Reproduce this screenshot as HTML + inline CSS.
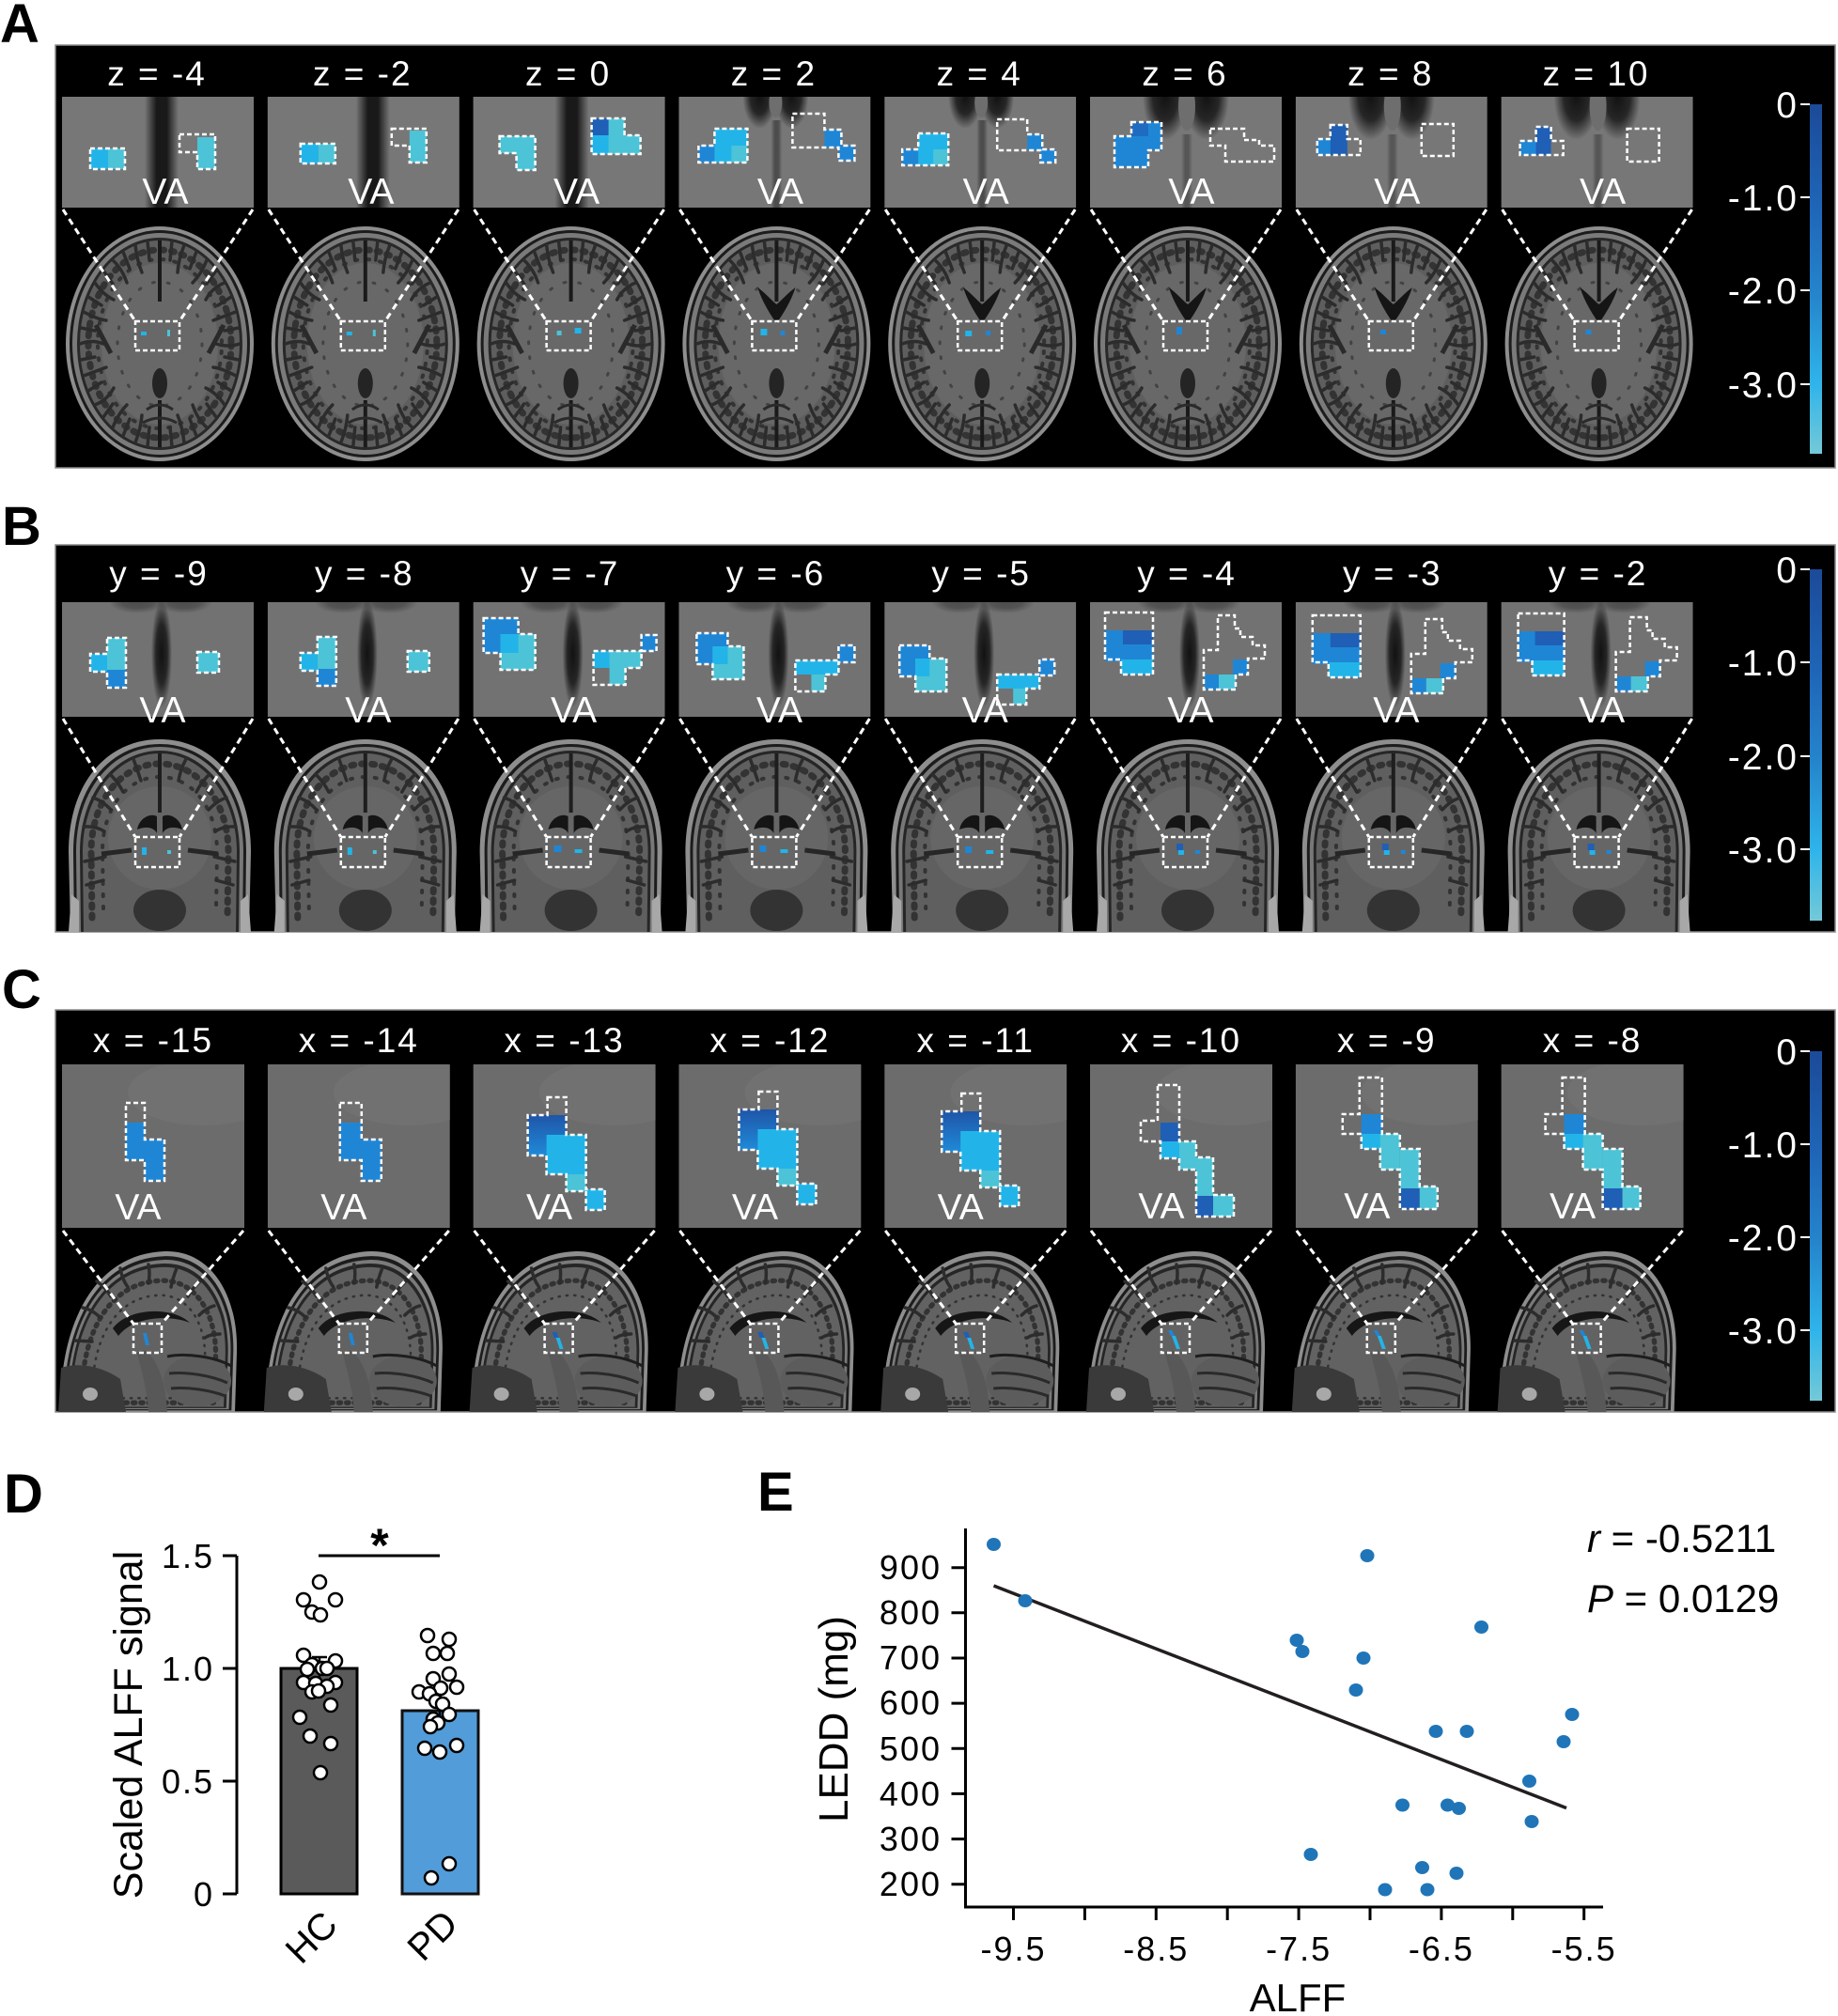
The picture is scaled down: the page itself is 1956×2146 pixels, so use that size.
<!DOCTYPE html>
<html><head><meta charset="utf-8">
<style>
html,body{margin:0;padding:0;background:#fff}
svg{display:block}
text{font-family:"Liberation Sans",Arial,sans-serif}
.lab{fill:#fff;font-size:37px;letter-spacing:2px;text-anchor:middle}
.va{fill:#fff;font-size:39px;text-anchor:middle}
.cbl{fill:#fff;font-size:39px;letter-spacing:2px;text-anchor:end}
.c1{fill:#1f5fb5}.c2{fill:#1f86d6}.c3{fill:#22b4e8}.c4{fill:#4cc3d6}
.ol{fill:none;stroke:#fff;stroke-width:2.5;stroke-dasharray:5 3}
.dl{fill:none;stroke:#fff;stroke-width:3;stroke-dasharray:7 5}
.pl{font-weight:bold;font-size:58px;fill:#000}
.tk{font-size:36px;letter-spacing:2px;fill:#000}
.sul{fill:none;stroke:#2c2c2c;stroke-width:3.5;stroke-linecap:round}
.tex{fill:none;stroke:#333;stroke-linecap:round}
</style></head><body>
<svg width="1956" height="2146" viewBox="0 0 1956 2146" xmlns="http://www.w3.org/2000/svg">
<defs>
<clipPath id="cA"><rect width="204" height="118"/></clipPath>
<clipPath id="cB"><rect width="204" height="122"/></clipPath>
<clipPath id="cC"><rect width="194" height="174"/></clipPath>
<radialGradient id="dk"><stop offset="0" stop-color="#121212" stop-opacity="1"/><stop offset="0.55" stop-color="#121212" stop-opacity="0.8"/><stop offset="1" stop-color="#121212" stop-opacity="0"/></radialGradient>
<linearGradient id="gH" x1="0" x2="1" y1="0" y2="0"><stop offset="0" stop-color="#141414" stop-opacity="0"/><stop offset="0.35" stop-color="#141414" stop-opacity="0.95"/><stop offset="0.65" stop-color="#141414" stop-opacity="0.95"/><stop offset="1" stop-color="#141414" stop-opacity="0"/></linearGradient>
<linearGradient id="cb" x1="0" y1="0" x2="0" y2="1"><stop offset="0" stop-color="#1b4a98"/><stop offset="0.3" stop-color="#1f66b8"/><stop offset="0.55" stop-color="#2585cc"/><stop offset="0.8" stop-color="#2fb4ea"/><stop offset="1" stop-color="#74c9d8"/></linearGradient>
<linearGradient id="cg" x1="0" y1="0" x2="0" y2="1"><stop offset="0" stop-color="#1f55a8"/><stop offset="1" stop-color="#1f8ad8"/></linearGradient>

<g id="ax">
<ellipse rx="100" ry="125" fill="#8e8e8e"/>
<ellipse rx="96" ry="121" fill="#1c1c1c"/>
<ellipse rx="93" ry="118" fill="#7a7a7a"/>
<ellipse rx="88" ry="113" fill="#282828"/>
<ellipse rx="85" ry="110" fill="#5e5e5e"/>
<ellipse rx="62" ry="86" fill="#686868"/>
<ellipse class="tex" rx="76" ry="100" stroke-width="7" stroke-dasharray="3 8"/>
<ellipse class="tex" rx="66" ry="90" stroke-width="4" stroke-dasharray="2 11" stroke-dashoffset="5"/>
<ellipse class="tex" rx="45" ry="66" stroke-width="3" stroke-dasharray="2 14" opacity="0.7"/>
<path class="sul" d="M85,0Q72,4 60,0M81,34Q66,26 57,25M69,65Q60,52 49,47M50,89Q40,80 35,65M26,105Q24,88 19,76M-26,105Q-20,90 -19,76M-50,89Q-44,74 -35,65M-69,65Q-56,60 -49,47M-81,34Q-70,30 -57,25M-85,0Q-72,-5 -60,0M-81,-34Q-66,-26 -57,-25M-69,-65Q-60,-52 -49,-47M-50,-89Q-40,-80 -35,-65M-26,-105Q-24,-88 -19,-76M26,-105Q20,-90 19,-76M50,-89Q44,-74 35,-65M69,-65Q56,-60 49,-47M81,-34Q70,-30 57,-25"/>
<path class="sul" stroke-width="2.5" d="M84,17L69,14M76,50L62,41M60,78L50,64M39,98L32,80M13,109L11,89M-84,17L-69,14M-76,50L-62,41M-60,78L-50,64M-39,98L-32,80M-13,109L-11,89M84,-17L69,-14M76,-50L62,-41M60,-78L50,-64M39,-98L32,-80M13,-109L11,-89M-84,-17L-69,-14M-76,-50L-62,-41M-60,-78L-50,-64M-39,-98L-32,-80M-13,-109L-11,-89"/>
<path d="M0,-110V-45M0,60V110" stroke="#1a1a1a" stroke-width="4"/>
<path d="M-68,-20L-52,10M68,-20L52,10" stroke="#2a2a2a" stroke-width="5"/>
<ellipse cx="0" cy="42" rx="8" ry="16" fill="#242424"/>
<path d="M-14,70Q0,60 14,70M-18,84Q0,74 18,84" stroke="#2a2a2a" stroke-width="3" fill="none"/>
</g>
<path id="vent" d="M0,-22C-6,-30 -16,-46 -20,-60C-12,-54 -5,-46 0,-42C5,-46 12,-54 20,-60C16,-46 6,-30 0,-22Z" fill="#151515"/>

<g id="cor">
<path d="M-95,205L-97,120C-97,45 -55,0 0,0C55,0 97,45 97,120L95,205Z" fill="#8e8e8e"/>
<path d="M-91,205L-92,120C-92,50 -52,5 0,5C52,5 92,50 92,120L91,205Z" fill="#1c1c1c"/>
<path d="M-88,205L-89,120C-89,53 -50,8 0,8C50,8 89,53 89,120L88,205Z" fill="#787878"/>
<path d="M-84,205L-85,120C-85,57 -47,12 0,12C47,12 85,57 85,120L84,205Z" fill="#262626"/>
<path d="M-81,205L-82,120C-82,60 -45,15 0,15C45,15 82,60 82,120L81,205Z" fill="#5f5f5f"/>
<ellipse cx="0" cy="105" rx="55" ry="55" fill="#666"/>
<path class="tex" stroke-width="7" stroke-dasharray="3 8" d="M-72,190L-73,120C-73,65 -40,26 0,26C40,26 73,65 73,120L72,190"/>
<path class="tex" stroke-width="4" stroke-dasharray="2 11" d="M-60,180L-61,120C-61,72 -34,40 0,40C34,40 61,72 61,120L60,180"/>
<path class="sul" d="M81,93Q68,92 59,98M71,62Q60,66 52,75M53,37Q44,46 39,56M28,21Q22,32 20,44M-28,21Q-24,32 -20,44M-53,37Q-44,46 -39,56M-71,62Q-60,66 -52,75M-81,93Q-68,92 -59,98M80,130L58,125M78,155L60,150M-80,130L-58,125M-78,155L-60,150"/>
<path d="M-62,122L-30,118M62,122L30,118" stroke="#262626" stroke-width="5"/>
<path d="M0,15V78" stroke="#1e1e1e" stroke-width="4"/>
<path d="M-3,82C-10,78 -22,84 -24,96C-14,92 -6,94 -3,100Z M3,82C10,78 22,84 24,96C14,92 6,94 3,100Z" fill="#151515"/>
<ellipse cx="0" cy="182" rx="28" ry="22" fill="#333"/>
<path d="M-97,205L-94,165L-86,172L-86,205Z M97,205L94,165L86,172L86,205Z" fill="#a8a8a8"/>
</g>

<path id="sagP" d="M-93,171C-96,88 -63,3 17,0C67,-2 96,48 94,108L92,171Z"/>
<g id="sag">
<use href="#sagP" fill="#8e8e8e"/>
<use href="#sagP" fill="#1c1c1c" transform="translate(0,130) scale(0.96) translate(0,-130)"/>
<use href="#sagP" fill="#7a7a7a" transform="translate(0,130) scale(0.93) translate(0,-130)"/>
<use href="#sagP" fill="#262626" transform="translate(0,130) scale(0.9) translate(0,-130)"/>
<use href="#sagP" fill="#626262" transform="translate(0,130) scale(0.87) translate(0,-130)"/>
<use href="#sagP" class="tex" stroke-width="7" stroke-dasharray="3 8" transform="translate(0,130) scale(0.76) translate(0,-130)"/>
<use href="#sagP" class="tex" stroke-width="4" stroke-dasharray="2 11" transform="translate(0,130) scale(0.64) translate(0,-130)"/>
<path class="sul" d="M-70,60Q-60,62 -52,70M-55,32Q-46,38 -40,48M-30,18Q-28,30 -22,38M0,14Q2,24 0,34M30,18Q26,28 24,38M55,32Q46,40 42,48M70,58Q62,60 54,68M76,88Q66,88 60,92M-78,95L-60,96"/>
<path d="M-38,82C-22,60 25,58 44,76C25,68 -15,68 -32,90Z" fill="#161616"/>
<path d="M-96,171L-93,124C-75,118 -50,122 -30,136L-24,171Z" fill="#3a3a3a"/>
<ellipse cx="-62" cy="152" rx="8" ry="7" fill="#a8a8a8"/>
<ellipse cx="52" cy="138" rx="36" ry="27" fill="#5c5c5c"/>
<path d="M22,130C40,128 66,132 84,140M24,146C42,144 66,148 82,154" stroke="#2a2a2a" stroke-width="3" fill="none"/>
<path d="M20,112C40,108 70,112 88,122" stroke="#1e1e1e" stroke-width="3" fill="none"/>
<path d="M-5,105C5,110 18,130 20,171L0,171C-2,140 -10,120 -12,108Z" fill="#585858"/>
</g>

<g id="iA1"><rect width="204" height="118" fill="#777"/></g>
<g id="iA2" clip-path="url(#cA)"><rect width="204" height="118" fill="#777"/><ellipse cx="86" cy="0" rx="18" ry="34" fill="url(#dk)"/><ellipse cx="120" cy="0" rx="18" ry="34" fill="url(#dk)"/><ellipse cx="103" cy="6" rx="7" ry="16" fill="#6e6e6e"/><rect x="98" y="25" width="12" height="93" fill="url(#gH)" opacity="0.45"/></g>
<g id="iA3" clip-path="url(#cA)"><rect width="204" height="118" fill="#777"/><ellipse cx="80" cy="0" rx="24" ry="46" fill="url(#dk)"/><ellipse cx="124" cy="0" rx="24" ry="46" fill="url(#dk)"/><ellipse cx="103" cy="10" rx="9" ry="26" fill="#6e6e6e"/><rect x="97" y="40" width="12" height="78" fill="url(#gH)" opacity="0.35"/></g>
<g id="iB" clip-path="url(#cB)"><rect width="204" height="122" fill="#727272"/><ellipse cx="106" cy="55" rx="11" ry="58" fill="url(#dk)"/><ellipse cx="80" cy="0" rx="30" ry="12" fill="url(#dk)" opacity="0.4"/><ellipse cx="130" cy="0" rx="30" ry="12" fill="url(#dk)" opacity="0.4"/></g>
<g id="iC" clip-path="url(#cC)"><rect width="194" height="174" fill="#6c6c6c"/><ellipse cx="150" cy="30" rx="80" ry="35" fill="#747474" opacity="0.6"/></g>
</defs>

<rect width="1956" height="2146" fill="#fff"/>

<text class="pl" x="0" y="45">A</text>
<text class="pl" x="2" y="580">B</text>
<text class="pl" x="2" y="1073">C</text>
<text class="pl" x="4" y="1610">D</text>
<text class="pl" x="806" y="1608">E</text>

<rect x="59" y="48" width="1894" height="450" fill="#000" stroke="#8a8a8a" stroke-width="1.5"/>
<rect x="59" y="580" width="1894" height="412" fill="#000" stroke="#8a8a8a" stroke-width="1.5"/>
<rect x="59" y="1075" width="1894" height="428" fill="#000" stroke="#8a8a8a" stroke-width="1.5"/>

<!-- ================= PANEL A ================= -->
<g transform="translate(0,0)">
<text class="lab" x="167" y="91">z = -4</text>
<use href="#ax" x="170" y="366"/>
<g transform="translate(66,103)"><use href="#iA1"/><rect x="88" width="36" height="118" fill="url(#gH)"/>
<text class="va" x="110" y="114">VA</text>
<rect class="c3" x="30" y="55" width="19" height="22"/><rect class="c4" x="49" y="55" width="18" height="22"/><rect class="ol" x="30" y="55" width="37" height="22"/>
<rect class="c4" x="144" y="43" width="19" height="34"/><path class="ol" d="M125,40H163V77H144V59H125Z"/>
</g>
<path class="dl" d="M67,223L144,342M269,223L191,342"/>
<rect class="ol" x="144" y="342" width="47" height="31"/>
<rect class="c3" x="150" y="353" width="6" height="4"/><rect class="c4" x="178" y="351" width="3" height="7"/>
</g>

<g transform="translate(218.8,0)">
<text class="lab" x="167" y="91">z = -2</text>
<use href="#ax" x="170" y="366"/>
<g transform="translate(66,103)"><use href="#iA1"/><rect x="94" width="36" height="118" fill="url(#gH)"/>
<text class="va" x="110" y="114">VA</text>
<rect class="c3" x="35" y="50" width="19" height="21"/><rect class="c4" x="54" y="50" width="18" height="21"/><rect class="ol" x="35" y="50" width="37" height="21"/>
<rect class="c4" x="151" y="36" width="18" height="34"/><path class="ol" d="M132,34H169V70H151V52H132Z"/>
</g>
<path class="dl" d="M67,223L144,342M269,223L191,342"/>
<rect class="ol" x="144" y="342" width="47" height="31"/>
<rect class="c3" x="150" y="353" width="6" height="4"/><rect class="c4" x="178" y="351" width="3" height="7"/>
</g>

<g transform="translate(437.6,0)">
<text class="lab" x="167" y="91">z = 0</text>
<use href="#ax" x="170" y="366"/>
<g transform="translate(66,103)"><use href="#iA1"/><rect x="87" width="36" height="118" fill="url(#gH)"/>
<text class="va" x="110" y="114">VA</text>
<path class="c4" d="M28,42H66V78H46V60H28Z"/><path class="ol" d="M28,42H66V78H46V60H28Z"/>
<path class="c4" d="M126,23H161V41H178V61H126Z"/><rect class="c1" x="126" y="23" width="18" height="18"/><rect class="c3" x="126" y="41" width="18" height="20"/><path class="ol" d="M126,23H161V41H178V61H126Z"/>
</g>
<path class="dl" d="M67,223L144,342M269,223L191,342"/>
<rect class="ol" x="144" y="342" width="47" height="31"/>
<rect class="c4" x="155" y="352" width="5" height="5"/><rect class="c3" x="174" y="349" width="7" height="6"/>
</g>

<g transform="translate(656.4,0)">
<text class="lab" x="167" y="91">z = 2</text>
<use href="#ax" x="170" y="366"/>
<use href="#vent" x="170" y="366"/>
<g transform="translate(66,103)"><use href="#iA2"/>
<text class="va" x="108" y="114">VA</text>
<path class="c3" d="M38,34H73V70H21V52H38Z"/><rect class="c2" x="21" y="52" width="17" height="18"/><rect class="c4" x="56" y="52" width="17" height="18"/><path class="ol" d="M38,34H73V70H21V52H38Z"/>
<rect class="c2" x="155" y="35" width="18" height="19"/><rect class="c2" x="170" y="52" width="17" height="16"/><path class="ol" d="M121,18H155V35H173V52H187V68H170V54H121Z"/>
</g>
<path class="dl" d="M67,223L144,342M269,223L191,342"/>
<rect class="ol" x="144" y="342" width="47" height="31"/>
<rect class="c3" x="153" y="350" width="7" height="7"/><rect class="c2" x="174" y="352" width="5" height="5"/>
</g>

<g transform="translate(875.2,0)">
<text class="lab" x="167" y="91">z = 4</text>
<use href="#ax" x="170" y="366"/>
<use href="#vent" x="170" y="366"/>
<g transform="translate(66,103)"><use href="#iA2"/>
<text class="va" x="108" y="114">VA</text>
<path class="c3" d="M36,39H68V73H19V56H36Z"/><rect class="c2" x="19" y="56" width="17" height="17"/><rect class="c4" x="52" y="56" width="16" height="17"/><path class="ol" d="M36,39H68V73H19V56H36Z"/>
<rect class="c2" x="152" y="40" width="16" height="17"/><rect class="c2" x="166" y="56" width="16" height="14"/><path class="ol" d="M120,24H152V40H168V56H182V70H166V57H120Z"/>
</g>
<path class="dl" d="M67,223L144,342M269,223L191,342"/>
<rect class="ol" x="144" y="342" width="47" height="31"/>
<rect class="c3" x="152" y="352" width="7" height="6"/><rect class="c2" x="174" y="352" width="5" height="5"/>
</g>

<g transform="translate(1094,0)">
<text class="lab" x="167" y="91">z = 6</text>
<use href="#ax" x="170" y="366"/>
<use href="#vent" x="170" y="366"/>
<g transform="translate(66,103)"><use href="#iA3"/>
<text class="va" x="108" y="114">VA</text>
<path class="c2" d="M44,27H76V57H62V75H26V42H44Z"/><rect class="c1" x="44" y="27" width="18" height="15" opacity="0.7"/><path class="ol" d="M44,27H76V57H62V75H26V42H44Z"/>
<path class="ol" d="M128,34H164V46H180V52H196V69H144V52H128Z"/>
</g>
<path class="dl" d="M67,223L144,342M269,223L191,342"/>
<rect class="ol" x="144" y="342" width="47" height="31"/>
<rect class="c2" x="158" y="348" width="6" height="8"/>
</g>

<g transform="translate(1312.8,0)">
<text class="lab" x="167" y="91">z = 8</text>
<use href="#ax" x="170" y="366"/>
<use href="#vent" x="170" y="366"/>
<g transform="translate(66,103)"><use href="#iA3"/>
<text class="va" x="108" y="114">VA</text>
<path class="c1" d="M37,30H55V62H23V45H37Z"/><rect class="c2" x="23" y="45" width="14" height="17"/><path class="ol" d="M37,30H55V45H69V62H23V45H37Z"/>
<rect class="ol" x="134" y="29" width="34" height="34"/>
</g>
<path class="dl" d="M67,223L144,342M269,223L191,342"/>
<rect class="ol" x="144" y="342" width="47" height="31"/>
<rect class="c2" x="156" y="351" width="6" height="5"/>
</g>

<g transform="translate(1531.6,0)">
<text class="lab" x="167" y="91">z = 10</text>
<use href="#ax" x="170" y="366"/>
<use href="#vent" x="170" y="366"/>
<g transform="translate(66,103)"><use href="#iA3"/>
<text class="va" x="108" y="114">VA</text>
<path class="c1" d="M37,32H53V62H20V47H37Z"/><rect class="c2" x="20" y="47" width="17" height="15"/><path class="ol" d="M37,32H53V47H66V62H20V47H37Z"/>
<rect class="ol" x="134" y="34" width="34" height="35"/>
</g>
<path class="dl" d="M67,223L144,342M269,223L191,342"/>
<rect class="ol" x="144" y="342" width="47" height="31"/>
<rect class="c2" x="156" y="351" width="6" height="5"/>
</g>

<!-- ================= PANEL B ================= -->
<g transform="translate(0,0)">
<text class="lab" x="169" y="623">y = -9</text>
<use href="#cor" x="170" y="787"/>
<g transform="translate(66,641)"><use href="#iB"/>
<text class="va" x="107" y="128">VA</text>
<rect class="c4" x="48" y="38" width="20" height="34"/><rect class="c2" x="48" y="72" width="20" height="19"/><rect class="c3" x="30" y="55" width="18" height="19"/><path class="ol" d="M48,38H68V91H48V74H30V55H48Z"/>
<rect class="c4" x="144" y="53" width="23" height="22"/><rect class="ol" x="144" y="53" width="23" height="22"/>
</g>
<path class="dl" d="M67,765L144,891M269,765L191,891"/>
<rect class="ol" x="144" y="891" width="47" height="32"/>
<rect class="c3" x="151" y="902" width="5" height="8"/><rect class="c4" x="178" y="905" width="4" height="4"/>
</g>

<g transform="translate(218.8,0)">
<text class="lab" x="169" y="623">y = -8</text>
<use href="#cor" x="170" y="787"/>
<g transform="translate(66,641)"><use href="#iB"/>
<text class="va" x="107" y="128">VA</text>
<rect class="c4" x="53" y="37" width="20" height="34"/><rect class="c2" x="53" y="71" width="20" height="18"/><rect class="c3" x="35" y="54" width="18" height="19"/><path class="ol" d="M53,37H73V89H53V73H35V54H53Z"/>
<rect class="c4" x="149" y="52" width="23" height="22"/><rect class="ol" x="149" y="52" width="23" height="22"/>
</g>
<path class="dl" d="M67,765L144,891M269,765L191,891"/>
<rect class="ol" x="144" y="891" width="47" height="32"/>
<rect class="c3" x="151" y="902" width="5" height="8"/><rect class="c4" x="178" y="905" width="4" height="4"/>
</g>

<g transform="translate(437.6,0)">
<text class="lab" x="169" y="623">y = -7</text>
<use href="#cor" x="170" y="787"/>
<g transform="translate(66,641)"><use href="#iB"/>
<text class="va" x="107" y="128">VA</text>
<rect class="c2" x="11" y="17" width="37" height="37"/><rect class="c4" x="29" y="34" width="37" height="38"/><rect class="c3" x="29" y="34" width="19" height="20"/><path class="ol" d="M11,17H48V34H66V72H29V54H11Z"/>
<rect class="c3" x="128" y="52" width="51" height="18"/><rect class="c4" x="145" y="52" width="34" height="18"/><rect class="c4" x="145" y="70" width="17" height="18"/><rect class="c2" x="179" y="35" width="16" height="17"/><path class="ol" d="M128,52H179V35H195V52H179V70H162V88H128Z"/>
</g>
<path class="dl" d="M67,765L144,891M269,765L191,891"/>
<rect class="ol" x="144" y="891" width="47" height="32"/>
<rect class="c2" x="152" y="900" width="8" height="7"/><rect class="c3" x="174" y="904" width="8" height="4"/>
</g>

<g transform="translate(656.4,0)">
<text class="lab" x="169" y="623">y = -6</text>
<use href="#cor" x="170" y="787"/>
<g transform="translate(66,641)"><use href="#iB"/>
<text class="va" x="107" y="128">VA</text>
<rect class="c2" x="19" y="33" width="33" height="33"/><rect class="c4" x="36" y="47" width="33" height="35"/><rect class="c3" x="36" y="47" width="16" height="19"/><path class="ol" d="M19,33H52V47H69V82H36V66H19Z"/>
<rect class="c2" x="170" y="46" width="17" height="18"/><rect class="c3" x="124" y="62" width="46" height="15"/><rect class="c4" x="141" y="77" width="15" height="18"/><path class="ol" d="M124,62H170V46H187V64H170V77H156V95H124Z"/>
</g>
<path class="dl" d="M67,765L144,891M269,765L191,891"/>
<rect class="ol" x="144" y="891" width="47" height="32"/>
<rect class="c2" x="152" y="900" width="7" height="7"/><rect class="c3" x="174" y="904" width="8" height="4"/>
</g>

<g transform="translate(875.2,0)">
<text class="lab" x="169" y="623">y = -5</text>
<use href="#cor" x="170" y="787"/>
<g transform="translate(66,641)"><use href="#iB"/>
<text class="va" x="107" y="128">VA</text>
<rect class="c2" x="16" y="46" width="32" height="33"/><rect class="c4" x="33" y="60" width="33" height="35"/><rect class="c3" x="33" y="60" width="15" height="19"/><path class="ol" d="M16,46H48V60H66V95H33V79H16Z"/>
<rect class="c2" x="165" y="61" width="16" height="17"/><rect class="c3" x="120" y="77" width="45" height="15"/><rect class="c4" x="137" y="92" width="14" height="17"/><path class="ol" d="M120,77H165V61H181V78H165V92H151V109H120Z"/>
</g>
<path class="dl" d="M67,765L144,891M269,765L191,891"/>
<rect class="ol" x="144" y="891" width="47" height="32"/>
<rect class="c2" x="152" y="901" width="7" height="7"/><rect class="c3" x="174" y="905" width="8" height="4"/>
</g>

<g transform="translate(1094,0)">
<text class="lab" x="169" y="623">y = -4</text>
<use href="#cor" x="170" y="787"/>
<g transform="translate(66,641)"><use href="#iB"/>
<text class="va" x="107" y="128">VA</text>
<rect class="c2" x="16" y="30" width="51" height="33"/><rect class="c1" x="35" y="30" width="32" height="15"/><rect class="c3" x="33" y="61" width="34" height="16"/><path class="ol" d="M16,11H67V77H33V61H16Z"/>
<rect class="c2" x="152" y="61" width="16" height="16"/><rect class="c2" x="122" y="77" width="15" height="16"/><rect class="c4" x="137" y="77" width="18" height="16"/><path class="ol" d="M136,14H154V28H160V37H173V46H186V60H168V77H155V93H121V51H136Z"/>
</g>
<path class="dl" d="M67,765L144,891M269,765L191,891"/>
<rect class="ol" x="144" y="891" width="47" height="32"/>
<rect class="c1" x="158" y="898" width="7" height="7"/><rect class="c3" x="160" y="905" width="6" height="5"/><rect class="c2" x="178" y="905" width="5" height="4"/>
</g>

<g transform="translate(1312.8,0)">
<text class="lab" x="169" y="623">y = -3</text>
<use href="#cor" x="170" y="787"/>
<g transform="translate(66,641)"><use href="#iB"/>
<text class="va" x="107" y="128">VA</text>
<rect class="c2" x="18" y="33" width="51" height="33"/><rect class="c1" x="37" y="33" width="32" height="15"/><rect class="c3" x="35" y="64" width="34" height="16"/><path class="ol" d="M18,14H69V80H35V64H18Z"/>
<rect class="c2" x="154" y="65" width="16" height="16"/><rect class="c2" x="124" y="81" width="15" height="16"/><rect class="c4" x="139" y="81" width="18" height="16"/><path class="ol" d="M138,18H156V32H162V41H175V50H188V64H170V81H157V97H123V55H138Z"/>
</g>
<path class="dl" d="M67,765L144,891M269,765L191,891"/>
<rect class="ol" x="144" y="891" width="47" height="32"/>
<rect class="c1" x="158" y="898" width="7" height="7"/><rect class="c3" x="160" y="905" width="6" height="5"/><rect class="c2" x="178" y="905" width="5" height="4"/>
</g>

<g transform="translate(1531.6,0)">
<text class="lab" x="169" y="623">y = -2</text>
<use href="#cor" x="170" y="787"/>
<g transform="translate(66,641)"><use href="#iB"/>
<text class="va" x="107" y="128">VA</text>
<rect class="c2" x="18" y="31" width="49" height="33"/><rect class="c1" x="36" y="31" width="31" height="15"/><rect class="c3" x="33" y="62" width="34" height="16"/><path class="ol" d="M18,12H67V78H33V62H18Z"/>
<rect class="c2" x="153" y="63" width="16" height="16"/><rect class="c2" x="123" y="79" width="15" height="16"/><rect class="c4" x="138" y="79" width="18" height="16"/><path class="ol" d="M137,16H155V30H161V39H174V48H187V62H169V79H156V95H122V53H137Z"/>
</g>
<path class="dl" d="M67,765L144,891M269,765L191,891"/>
<rect class="ol" x="144" y="891" width="47" height="32"/>
<rect class="c1" x="158" y="898" width="7" height="7"/><rect class="c3" x="160" y="905" width="6" height="5"/><rect class="c2" x="178" y="905" width="5" height="4"/>
</g>

<!-- ================= PANEL C ================= -->
<g transform="translate(0,0)">
<text class="lab" x="163" y="1120">x = -15</text>
<use href="#sag" x="158" y="1332"/>
<g transform="translate(66,1133)"><use href="#iC"/>
<text class="va" x="81" y="165">VA</text>
<rect class="c2" x="68" y="62" width="20" height="40"/><rect class="c2" x="88" y="80" width="21" height="44"/><path class="ol" d="M68,41H88V80H109V124H88V102H68Z"/>
</g>
<path class="dl" d="M67,1310L142,1409M259,1310L172,1409"/>
<rect class="ol" x="142" y="1409" width="30" height="31"/>
<path class="c2" d="M152,1419h4l3,13h-4z"/>
</g>

<g transform="translate(218.8,0)">
<text class="lab" x="163" y="1120">x = -14</text>
<use href="#sag" x="158" y="1332"/>
<g transform="translate(66,1133)"><use href="#iC"/>
<text class="va" x="81" y="165">VA</text>
<rect class="c2" x="77" y="62" width="23" height="40"/><rect class="c2" x="100" y="80" width="21" height="44"/><path class="ol" d="M77,41H100V80H121V124H100V102H77Z"/>
</g>
<path class="dl" d="M67,1310L142,1409M259,1310L172,1409"/>
<rect class="ol" x="142" y="1409" width="30" height="31"/>
<path class="c2" d="M152,1419h4l3,13h-4z"/>
</g>

<g transform="translate(437.6,0)">
<text class="lab" x="163" y="1120">x = -13</text>
<use href="#sag" x="158" y="1332"/>
<g transform="translate(66,1133)"><use href="#iC"/>
<text class="va" x="81" y="165">VA</text>
<rect fill="url(#cg)" x="58" y="54" width="41" height="43"/><rect class="c3" x="78" y="75" width="42" height="42"/><rect class="c4" x="99" y="117" width="21" height="18"/><rect class="c3" x="120" y="133" width="20" height="22"/>
<path class="ol" d="M79,35H99V75H120V133H140V155H120V135H99V117H78V97H58V54H79Z"/>
</g>
<path class="dl" d="M67,1310L142,1409M259,1310L172,1409"/>
<rect class="ol" x="142" y="1409" width="30" height="31"/>
<path class="c1" d="M150,1418h5l2,6h-5z"/><path class="c3" d="M154,1424h4l4,12h-4z"/>
</g>

<g transform="translate(656.4,0)">
<text class="lab" x="163" y="1120">x = -12</text>
<use href="#sag" x="158" y="1332"/>
<g transform="translate(66,1133)"><use href="#iC"/>
<text class="va" x="81" y="165">VA</text>
<g transform="translate(6,-6)">
<rect fill="url(#cg)" x="58" y="54" width="41" height="43"/><rect class="c3" x="78" y="75" width="42" height="42"/><rect class="c4" x="99" y="117" width="21" height="18"/><rect class="c3" x="120" y="133" width="20" height="22"/>
<path class="ol" d="M79,35H99V75H120V133H140V155H120V135H99V117H78V97H58V54H79Z"/>
</g></g>
<path class="dl" d="M67,1310L142,1409M259,1310L172,1409"/>
<rect class="ol" x="142" y="1409" width="30" height="31"/>
<path class="c1" d="M150,1418h5l2,6h-5z"/><path class="c3" d="M154,1424h4l4,12h-4z"/>
</g>

<g transform="translate(875.2,0)">
<text class="lab" x="163" y="1120">x = -11</text>
<use href="#sag" x="158" y="1332"/>
<g transform="translate(66,1133)"><use href="#iC"/>
<text class="va" x="81" y="165">VA</text>
<g transform="translate(3,-4)">
<rect fill="url(#cg)" x="58" y="54" width="41" height="43"/><rect class="c3" x="78" y="75" width="42" height="42"/><rect class="c4" x="99" y="117" width="21" height="18"/><rect class="c3" x="120" y="133" width="20" height="22"/>
<path class="ol" d="M79,35H99V75H120V133H140V155H120V135H99V117H78V97H58V54H79Z"/>
</g></g>
<path class="dl" d="M67,1310L142,1409M259,1310L172,1409"/>
<rect class="ol" x="142" y="1409" width="30" height="31"/>
<path class="c1" d="M150,1418h5l2,6h-5z"/><path class="c3" d="M154,1424h4l4,12h-4z"/>
</g>

<g transform="translate(1094,0)">
<text class="lab" x="163" y="1120">x = -10</text>
<use href="#sag" x="158" y="1332"/>
<g transform="translate(66,1133)"><use href="#iC"/>
<text class="va" x="76" y="164">VA</text>
<rect class="c1" x="75" y="62" width="20" height="20"/><rect class="c3" x="75" y="82" width="20" height="18"/><rect class="c4" x="95" y="82" width="18" height="30"/><rect class="c4" x="113" y="99" width="18" height="41"/><rect class="c1" x="113" y="140" width="18" height="22"/><rect class="c4" x="131" y="139" width="22" height="23"/>
<path class="ol" d="M72,22H95V82H113V99H131V139H153V162H113V112H95V100H75V82H54V60H72Z"/>
</g>
<path class="dl" d="M67,1310L142,1409M259,1310L172,1409"/>
<rect class="ol" x="142" y="1409" width="30" height="31"/>
<path class="c2" d="M149,1416h4l3,6h-4z"/><path class="c3" d="M153,1422h4l5,14h-4z"/>
</g>

<g transform="translate(1312.8,0)">
<text class="lab" x="163" y="1120">x = -9</text>
<use href="#sag" x="158" y="1332"/>
<g transform="translate(66,1133)"><use href="#iC"/>
<text class="va" x="76" y="164">VA</text>
<rect class="c2" x="70" y="53" width="22" height="21"/><rect class="c3" x="70" y="74" width="22" height="16"/><rect class="c4" x="90" y="74" width="21" height="38"/><rect class="c4" x="111" y="90" width="21" height="42"/><rect class="c1" x="111" y="132" width="21" height="22"/><rect class="c4" x="132" y="130" width="19" height="24"/>
<path class="ol" d="M68,14H92V74H111V90H132V130H151V154H111V112H90V90H70V74H50V53H68Z"/>
</g>
<path class="dl" d="M67,1310L142,1409M259,1310L172,1409"/>
<rect class="ol" x="142" y="1409" width="30" height="31"/>
<path class="c2" d="M149,1416h4l3,6h-4z"/><path class="c3" d="M153,1422h4l5,14h-4z"/>
</g>

<g transform="translate(1531.6,0)">
<text class="lab" x="163" y="1120">x = -8</text>
<use href="#sag" x="158" y="1332"/>
<g transform="translate(66,1133)"><use href="#iC"/>
<text class="va" x="76" y="164">VA</text>
<g transform="translate(-3,0)">
<rect class="c2" x="70" y="53" width="22" height="21"/><rect class="c3" x="70" y="74" width="22" height="16"/><rect class="c4" x="90" y="74" width="21" height="38"/><rect class="c4" x="111" y="90" width="21" height="42"/><rect class="c1" x="111" y="132" width="21" height="22"/><rect class="c4" x="132" y="130" width="19" height="24"/>
<path class="ol" d="M68,14H92V74H111V90H132V130H151V154H111V112H90V90H70V74H50V53H68Z"/>
</g></g>
<path class="dl" d="M67,1310L142,1409M259,1310L172,1409"/>
<rect class="ol" x="142" y="1409" width="30" height="31"/>
<path class="c2" d="M149,1416h4l3,6h-4z"/><path class="c3" d="M153,1422h4l5,14h-4z"/>
</g>

<!-- ================= COLORBARS ================= -->
<g>
<rect x="1926" y="111" width="13" height="372" fill="url(#cb)"/>
<path d="M1916,111H1926M1916,210H1926M1916,309H1926M1916,409H1926" stroke="#fff" stroke-width="2"/>
<text class="cbl" x="1914" y="125">0</text>
<text class="cbl" x="1914" y="224">-1.0</text>
<text class="cbl" x="1914" y="323">-2.0</text>
<text class="cbl" x="1914" y="423">-3.0</text>
</g>
<g>
<rect x="1926" y="606" width="13" height="374" fill="url(#cb)"/>
<path d="M1916,606H1926M1916,705H1926M1916,805H1926M1916,904H1926" stroke="#fff" stroke-width="2"/>
<text class="cbl" x="1914" y="620">0</text>
<text class="cbl" x="1914" y="719">-1.0</text>
<text class="cbl" x="1914" y="819">-2.0</text>
<text class="cbl" x="1914" y="918">-3.0</text>
</g>
<g>
<rect x="1926" y="1119" width="13" height="372" fill="url(#cb)"/>
<path d="M1916,1119H1926M1916,1218H1926M1916,1317H1926M1916,1416H1926" stroke="#fff" stroke-width="2"/>
<text class="cbl" x="1914" y="1133">0</text>
<text class="cbl" x="1914" y="1232">-1.0</text>
<text class="cbl" x="1914" y="1331">-2.0</text>
<text class="cbl" x="1914" y="1430">-3.0</text>
</g>

<!-- ================= PANEL D ================= -->
<g>
<path d="M252,1656V2016M237,1656H252M237,1776H252M237,1896H252M237,2016H252" stroke="#000" stroke-width="3" fill="none"/>
<text class="tk" x="228" y="1669" text-anchor="end">1.5</text>
<text class="tk" x="228" y="1789" text-anchor="end">1.0</text>
<text class="tk" x="228" y="1909" text-anchor="end">0.5</text>
<text class="tk" x="228" y="2029" text-anchor="end">0</text>
<text transform="translate(151,1836) rotate(-90)" text-anchor="middle" font-size="43" fill="#000">Scaled ALFF signal</text>
<rect x="299" y="1776" width="81" height="240" fill="#5a5a5a" stroke="#000" stroke-width="3"/>
<rect x="428" y="1821" width="81" height="195" fill="#529cd9" stroke="#111" stroke-width="3"/>
<path d="M340,1764V1788M332,1764H348M468,1808V1834M460,1808H476" stroke="#000" stroke-width="2.5"/>
<line x1="339" y1="1656" x2="468" y2="1656" stroke="#000" stroke-width="3"/>
<text x="404" y="1662" text-anchor="middle" font-size="50" font-weight="bold" fill="#000">*</text>
<g fill="#fff" stroke="#000" stroke-width="2.5">
<circle cx="340" cy="1684" r="7"/><circle cx="323" cy="1703" r="7"/><circle cx="357" cy="1703" r="7"/><circle cx="332" cy="1716" r="7"/><circle cx="341" cy="1719" r="7"/>
<circle cx="323" cy="1762" r="7"/><circle cx="357" cy="1768" r="7"/><circle cx="332" cy="1772" r="7"/><circle cx="343" cy="1776" r="7"/><circle cx="348" cy="1776" r="7"/><circle cx="327" cy="1777" r="7"/>
<circle cx="323" cy="1791" r="7"/><circle cx="357" cy="1791" r="7"/><circle cx="336" cy="1792" r="7"/><circle cx="348" cy="1795" r="7"/><circle cx="332" cy="1801" r="7"/><circle cx="339" cy="1800" r="7"/>
<circle cx="352" cy="1815" r="7"/><circle cx="319" cy="1828" r="7"/><circle cx="330" cy="1848" r="7"/><circle cx="352" cy="1856" r="7"/><circle cx="341" cy="1887" r="7"/>
<circle cx="455" cy="1741" r="7"/><circle cx="478" cy="1745" r="7"/><circle cx="461" cy="1760" r="7"/><circle cx="476" cy="1760" r="7"/><circle cx="478" cy="1782" r="7"/><circle cx="461" cy="1787" r="7"/>
<circle cx="446" cy="1801" r="7"/><circle cx="486" cy="1796" r="7"/><circle cx="469" cy="1797" r="7"/><circle cx="457" cy="1803" r="7"/><circle cx="464" cy="1811" r="7"/><circle cx="471" cy="1814" r="7"/>
<circle cx="478" cy="1825" r="7"/><circle cx="461" cy="1830" r="7"/><circle cx="466" cy="1834" r="7"/><circle cx="458" cy="1838" r="7"/><circle cx="452" cy="1861" r="7"/><circle cx="468" cy="1865" r="7"/><circle cx="486" cy="1858" r="7"/>
<circle cx="478" cy="1984" r="7"/><circle cx="459" cy="1999" r="7"/>
</g>
<text transform="translate(331,2062) rotate(-45)" text-anchor="middle" y="14" font-size="40" fill="#000">HC</text>
<text transform="translate(460,2060) rotate(-45)" text-anchor="middle" y="14" font-size="40" fill="#000">PD</text>
</g>

<!-- ================= PANEL E ================= -->
<g>
<path d="M1027.5,1627V2030H1706" stroke="#000" stroke-width="3" fill="none"/>
<path d="M1078.5,2030V2044M1154.4,2030V2044M1230.3,2030V2044M1306.2,2030V2044M1382.1,2030V2044M1458,2030V2044M1533.9,2030V2044M1609.8,2030V2044M1685.7,2030V2044" stroke="#000" stroke-width="3"/>
<path d="M1012.5,1668.7H1027.5M1012.5,1716.8H1027.5M1012.5,1765H1027.5M1012.5,1813.1H1027.5M1012.5,1861.3H1027.5M1012.5,1909.4H1027.5M1012.5,1957.6H1027.5M1012.5,2005.7H1027.5" stroke="#000" stroke-width="3"/>
<text class="tk" x="1078.5" y="2087" text-anchor="middle">-9.5</text>
<text class="tk" x="1230.3" y="2087" text-anchor="middle">-8.5</text>
<text class="tk" x="1382.1" y="2087" text-anchor="middle">-7.5</text>
<text class="tk" x="1533.9" y="2087" text-anchor="middle">-6.5</text>
<text class="tk" x="1685.7" y="2087" text-anchor="middle">-5.5</text>
<text class="tk" x="1002" y="1681" text-anchor="end">900</text>
<text class="tk" x="1002" y="1729" text-anchor="end">800</text>
<text class="tk" x="1002" y="1777" text-anchor="end">700</text>
<text class="tk" x="1002" y="1825" text-anchor="end">600</text>
<text class="tk" x="1002" y="1874" text-anchor="end">500</text>
<text class="tk" x="1002" y="1922" text-anchor="end">400</text>
<text class="tk" x="1002" y="1970" text-anchor="end">300</text>
<text class="tk" x="1002" y="2018" text-anchor="end">200</text>
<text x="1381" y="2141" text-anchor="middle" font-size="42" fill="#000">ALFF</text>
<text transform="translate(902,1830) rotate(-90)" text-anchor="middle" font-size="44" fill="#000">LEDD (mg)</text>
<text x="1689" y="1652" font-size="42" fill="#000"><tspan font-style="italic">r</tspan> = -0.5211</text>
<text x="1689" y="1716" font-size="42" fill="#000"><tspan font-style="italic">P</tspan> = 0.0129</text>
<line x1="1057.5" y1="1688" x2="1667" y2="1924.6" stroke="#231f20" stroke-width="3.5"/>
<g fill="#1f75b8">
<ellipse cx="1057.5" cy="1644" rx="7.5" ry="7"/><ellipse cx="1091" cy="1704" rx="7.5" ry="7"/><ellipse cx="1455" cy="1656" rx="7.5" ry="7"/>
<ellipse cx="1380" cy="1746" rx="7.5" ry="7"/><ellipse cx="1386" cy="1758" rx="7.5" ry="7"/><ellipse cx="1451" cy="1765" rx="7.5" ry="7"/>
<ellipse cx="1443" cy="1799" rx="7.5" ry="7"/><ellipse cx="1576.5" cy="1732" rx="7.5" ry="7"/><ellipse cx="1528" cy="1843" rx="7.5" ry="7"/>
<ellipse cx="1561" cy="1843" rx="7.5" ry="7"/><ellipse cx="1673" cy="1825" rx="7.5" ry="7"/><ellipse cx="1664" cy="1854" rx="7.5" ry="7"/>
<ellipse cx="1627.5" cy="1896" rx="7.5" ry="7"/><ellipse cx="1492.5" cy="1921.5" rx="7.5" ry="7"/><ellipse cx="1540.5" cy="1921.5" rx="7.5" ry="7"/>
<ellipse cx="1552.5" cy="1925" rx="7.5" ry="7"/><ellipse cx="1630" cy="1939" rx="7.5" ry="7"/><ellipse cx="1395" cy="1974" rx="7.5" ry="7"/>
<ellipse cx="1513.5" cy="1988" rx="7.5" ry="7"/><ellipse cx="1550" cy="1994" rx="7.5" ry="7"/><ellipse cx="1474" cy="2011.5" rx="7.5" ry="7"/>
<ellipse cx="1519" cy="2011.5" rx="7.5" ry="7"/>
</g>
</g>
</svg>
</body></html>
